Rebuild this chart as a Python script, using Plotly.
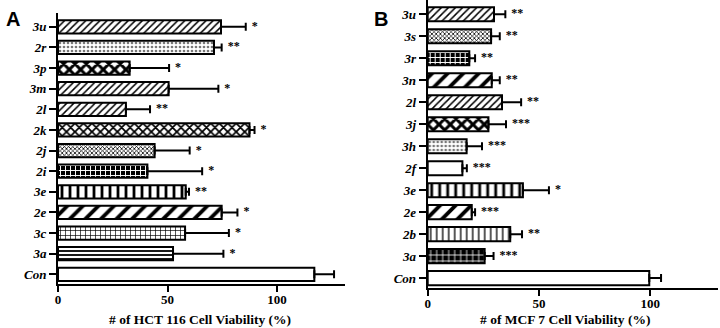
import plotly.graph_objects as go

# ---------------- data ----------------
cats_a = ["Con", "3a", "3c", "2e", "3e", "2i", "2j", "2k", "2l", "3m", "3p", "2r", "3u"]
vals_a = [117, 52.5, 58, 74.7, 58.3, 40.8, 44.1, 87.4, 31, 50.5, 32.7, 71.2, 74.4]
errs_a = [9, 23, 20, 7.2, 1.5, 25, 16, 2.3, 11, 22.7, 18, 3.5, 11.3]
stars_a = ["", "*", "*", "*", "**", "*", "*", "*", "**", "*", "*", "**", "*"]

cats_b = ["Con", "3a", "2b", "2e", "3e", "2f", "3h", "3j", "2l", "3n", "3r", "3s", "3u"]
vals_b = [99.6, 25.6, 37.1, 19.8, 42.8, 15.6, 17.5, 27.3, 33.4, 28.8, 18.7, 28.5, 29.8]
errs_b = [5.3, 4, 5.3, 1.5, 11.7, 2, 6.9, 7.9, 8.6, 3.6, 2.6, 3.9, 5.1]
stars_b = ["", "***", "**", "***", "*", "***", "***", "***", "**", "**", "**", "**", "**"]

x_ticks = [0, 50, 100]
title_a = "# of HCT 116 Cell Viability (%)"
title_b = "# of MCF 7 Cell Viability (%)"

# ---------------- styles ----------------
# (shape, fgcolor, bgcolor, size, solidity)
P = {
    "empty": ("", "black", "white", 8, 0.3),
    "fine": ("/", "black", "white", 5, 0.3),
    "thick": ("/", "black", "white", 11, 0.35),
    "light": (".", "#777777", "white", 4, 0.35),
    "check": ("x", "black", "white", 8, 0.6),
    "checker": ("x", "black", "white", 6, 0.5),
    "dense": ("x", "black", "white", 3, 0.45),
    "dark": ("+", "white", "black", 5, 0.35),
    "vbar": ("|", "black", "white", 8, 0.35),
    "vthin": ("|", "black", "white", 6, 0.22),
    "grid": ("+", "black", "white", 5, 0.25),
    "brick": ("-", "black", "white", 4, 0.45),
    "brickdark": ("+", "white", "black", 6, 0.25),
}
pat_a = ["empty", "brick", "grid", "thick", "vbar", "dark", "dense", "checker",
         "fine", "fine", "check", "light", "fine"]
pat_b = ["empty", "brickdark", "vthin", "thick", "vbar", "empty", "light", "check",
         "fine", "thick", "dark", "dense", "fine"]

SERIF = "Liberation Serif"
W, H = 720, 328


def pattern(keys):
    return dict(
        shape=[P[k][0] for k in keys],
        fgcolor=[P[k][1] for k in keys],
        bgcolor=[P[k][2] for k in keys],
        size=[P[k][3] for k in keys],
        solidity=[P[k][4] for k in keys],
        fillmode="replace",
    )


fig = go.Figure()

for cats, vals, errs, stars, pats, xa, ya in [
    (cats_a, vals_a, errs_a, stars_a, pat_a, "x", "y"),
    (cats_b, vals_b, errs_b, stars_b, pat_b, "x2", "y2"),
]:
    fig.add_trace(go.Bar(
        x=vals, y=cats, orientation="h", xaxis=xa, yaxis=ya,
        width=0.64,
        marker=dict(color="white", line=dict(color="black", width=2),
                    pattern=pattern(pats)),
        error_x=dict(type="data", array=errs, arrayminus=[0] * len(errs),
                     symmetric=False, color="black", thickness=2, width=4),
        showlegend=False, hoverinfo="skip",
    ))
    fig.add_trace(go.Scatter(
        x=[v + e for v, e in zip(vals, errs)], y=cats, mode="text",
        text=["  " + s for s in stars], textposition="middle right",
        textfont=dict(family=SERIF, size=12, color="black", weight="bold"),
        xaxis=xa, yaxis=ya, cliponaxis=False, showlegend=False, hoverinfo="skip",
    ))

xcommon = dict(
    tickvals=x_ticks, showline=True, linecolor="black", linewidth=2,
    ticks="outside", ticklen=6, tickwidth=2, tickcolor="black",
    showgrid=False, zeroline=False, automargin=False, ticklabelstandoff=-4,
    tickfont=dict(family=SERIF, size=13, color="black", weight="bold"),
)
ycommon = dict(
    type="category", showline=True, linecolor="black", linewidth=2,
    ticks="outside", ticklen=7, tickwidth=2, tickcolor="black",
    showgrid=False, zeroline=False, automargin=False,
    tickfont=dict(family=SERIF, size=13, color="black", weight="bold", style="italic"),
)

title_font = dict(family=SERIF, size=13.5, color="black", weight="bold")
panel_font = dict(family="Liberation Sans", size=20, color="black", weight="bold")

fig.update_layout(
    width=W, height=H,
    margin=dict(l=0, r=0, t=0, b=0, autoexpand=False),
    paper_bgcolor="white", plot_bgcolor="white",
    xaxis=dict(domain=[58 / W, 345 / W], range=[0, 131], anchor="y", **xcommon),
    yaxis=dict(domain=[(H - 284) / H, (H - 13) / H], range=[-0.47, 12.67],
               anchor="x", **ycommon),
    xaxis2=dict(domain=[427.7 / W, 718 / W], range=[0, 130.5], anchor="y2", **xcommon),
    yaxis2=dict(domain=[(H - 288) / H, 1.0], range=[-0.45, 12.65],
                anchor="x2", **ycommon),
    annotations=[
        dict(text=title_a, x=200 / W, y=1 - 319 / H, xref="paper", yref="paper",
             xanchor="center", yanchor="middle", showarrow=False, font=title_font),
        dict(text=title_b, x=565 / W, y=1 - 319 / H, xref="paper", yref="paper",
             xanchor="center", yanchor="middle", showarrow=False, font=title_font),
        dict(text="A", x=4 / W, y=1 - 6 / H, xref="paper", yref="paper",
             xanchor="left", yanchor="top", showarrow=False, font=panel_font),
        dict(text="B", x=372 / W, y=1 - 6 / H, xref="paper", yref="paper",
             xanchor="left", yanchor="top", showarrow=False, font=panel_font),
    ],
)

fig.write_html(
    "out.html",
    config={"displayModeBar": False},
    post_script="document.body.style.margin='0';document.body.style.overflow='hidden';",
)
